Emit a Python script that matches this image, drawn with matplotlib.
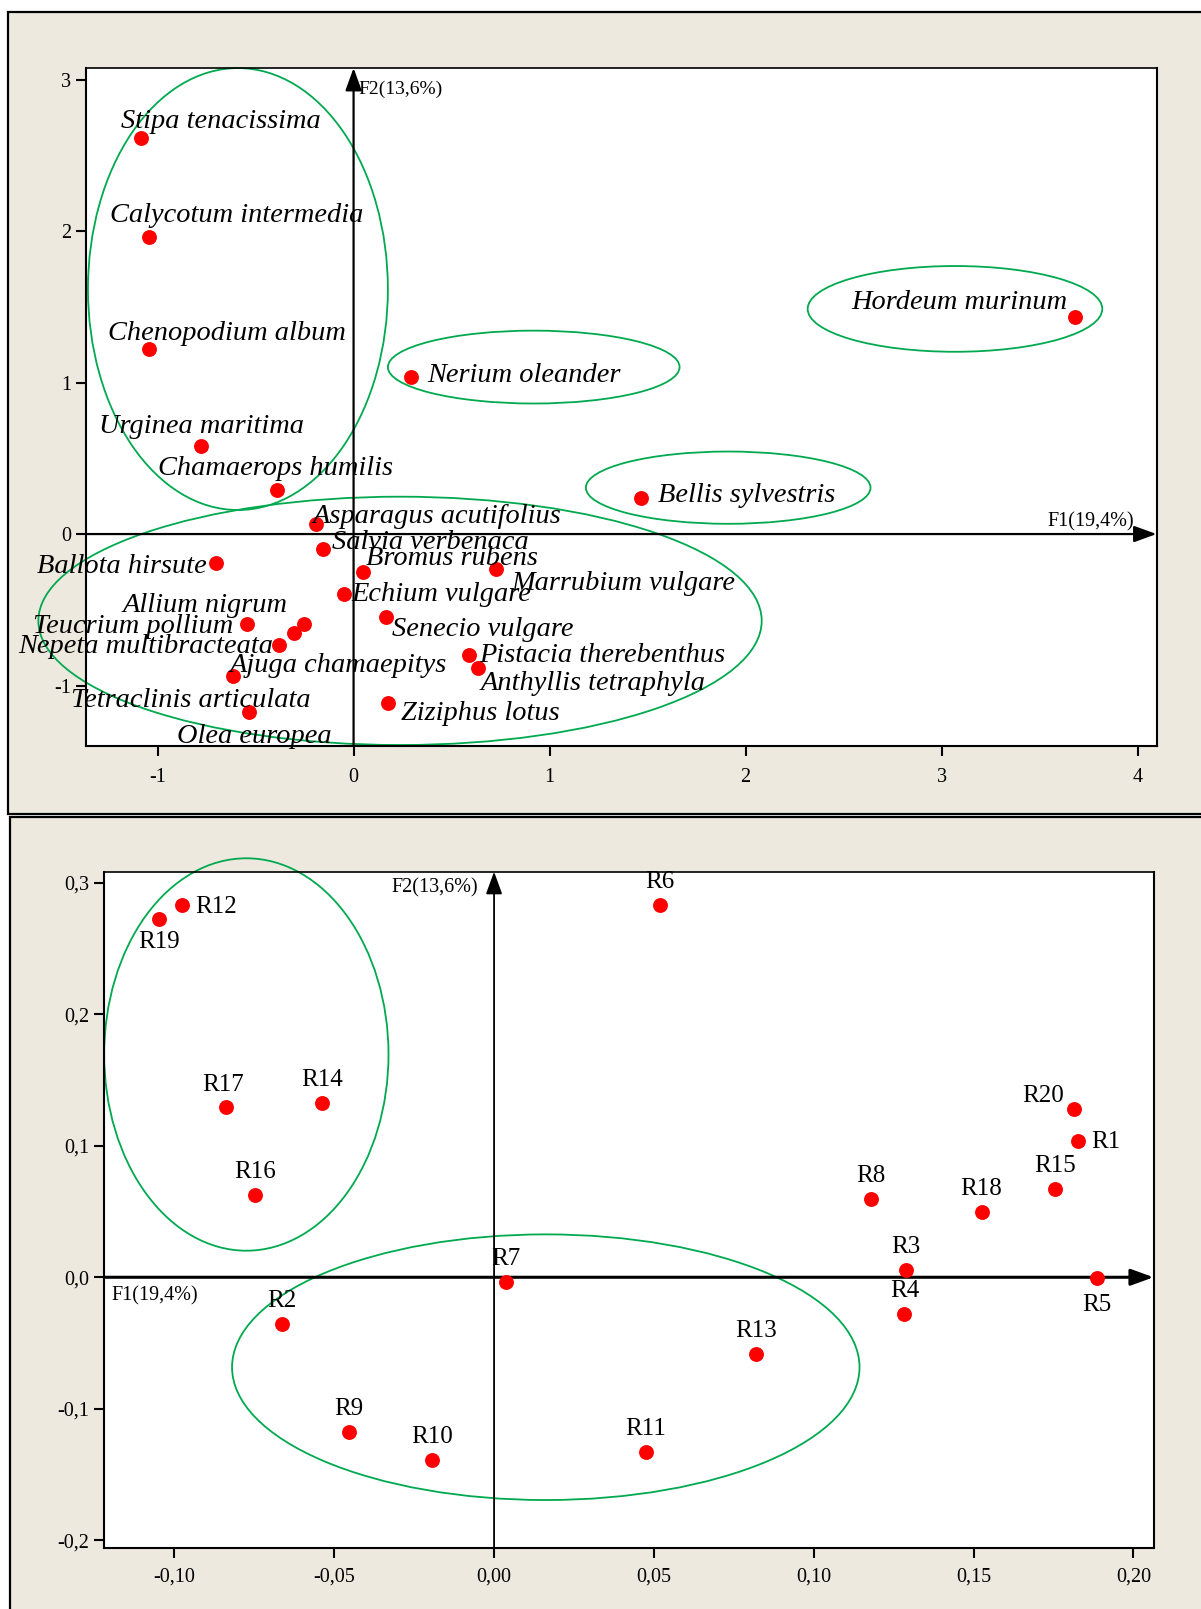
import matplotlib
matplotlib.use("Agg")
import matplotlib.pyplot as plt
from matplotlib.patches import Ellipse, Rectangle

plt.rcParams["font.family"] = ["Liberation Serif", "DejaVu Serif"]

W, H = 1201, 1609
BEIGE = "#ede9df"
GREEN = "#00a94f"
RED = "#ff0000"

# ---------------- #
# SPECIES (F1, F2) #
# ---------------- #
species = [
    "Stipa tenacissima", "Calycotum intermedia", "Chenopodium album",
    "Urginea maritima", "Chamaerops humilis", "Nerium oleander",
    "Hordeum murinum", "Bellis sylvestris", "Asparagus acutifolius",
    "Salvia verbenaca", "Ballota hirsute", "Bromus rubens",
    "Marrubium vulgare", "Echium vulgare", "Senecio vulgare",
    "Teucrium pollium", "Allium nigrum", "Nepeta multibracteata",
    "Ajuga chamaepitys", "Tetraclinis articulata", "Olea europea",
    "Pistacia therebenthus", "Anthyllis tetraphyla", "Ziziphus lotus",
]
sp_f1 = [-1.086, -1.042, -1.042, -0.778, -0.391, 0.291, 3.682, 1.468, -0.190,
         -0.156, -0.700, 0.047, 0.729, -0.047, 0.166, -0.542, -0.253, -0.380,
         -0.305, -0.617, -0.531, 0.591, 0.635, 0.174]
sp_f2 = [2.612, 1.962, 1.219, 0.584, 0.290, 1.038, 1.435, 0.238, 0.066,
         -0.097, -0.194, -0.249, -0.233, -0.398, -0.550, -0.594, -0.594, -0.733,
         -0.651, -0.940, -1.175, -0.799, -0.887, -1.117]

# ---------------- #
# RELEVES (F1, F2) #
# ---------------- #
releves = ["R1", "R2", "R3", "R4", "R5", "R6", "R7", "R8", "R9", "R10",
           "R11", "R12", "R13", "R14", "R15", "R16", "R17", "R18", "R19", "R20"]
rel_f1 = [0.1826, -0.0664, 0.1289, 0.1284, 0.1886, 0.0520, 0.0036, 0.1180, -0.0453, -0.0194,
          0.0475, -0.0976, 0.0820, -0.0538, 0.1754, -0.0747, -0.0839, 0.1525, -0.1049, 0.1813]
rel_f2 = [0.1039, -0.0355, 0.0056, -0.0279, -0.0008, 0.2831, -0.0038, 0.0595, -0.1179, -0.1389,
          -0.1326, 0.2834, -0.0581, 0.1325, 0.0674, 0.0626, 0.1295, 0.0499, 0.2725, 0.1278]

# tick values / labels
top_xticks = [-1, 0, 1, 2, 3, 4]
top_xlabels = ["-1", "0", "1", "2", "3", "4"]
top_yticks = [-1, 0, 1, 2, 3]
top_ylabels = ["-1", "0", "1", "2", "3"]
bot_xticks = [-0.10, -0.05, 0.00, 0.05, 0.10, 0.15, 0.20]
bot_xlabels = ["-0,10", "-0,05", "0,00", "0,05", "0,10", "0,15", "0,20"]
bot_yticks = [-0.2, -0.1, 0.0, 0.1, 0.2, 0.3]
bot_ylabels = ["-0,2", "-0,1", "0,0", "0,1", "0,2", "0,3"]

F1_LABEL = "F1(19,4%)"
F2_LABEL = "F2(13,6%)"

# group outlines (cx, cy, width, height) in data units
sp_groups = [(-0.59, 1.617, 1.53, 2.917), (0.919, 1.102, 1.488, 0.481),
             (3.068, 1.486, 1.503, 0.566), (1.911, 0.306, 1.452, 0.477),
             (0.237, -0.573, 3.69, 1.639)]
rel_groups = [(-0.0775, 0.1694, 0.08895, 0.2984), (0.01618, -0.0684, 0.1963, 0.202)]

# label placement: offset in pixels from the point, horizontal alignment
sp_offsets = {
    "Stipa tenacissima": (-20, 10, "left"), "Calycotum intermedia": (-39, 15, "left"),
    "Chenopodium album": (-41, 9, "left"), "Urginea maritima": (-102, 13, "left"),
    "Chamaerops humilis": (-119, 15, "left"), "Nerium oleander": (17, -5, "left"),
    "Hordeum murinum": (-8, 8, "right"), "Bellis sylvestris": (17, -4, "left"),
    "Asparagus acutifolius": (-4, 1, "left"), "Salvia verbenaca": (9, 0, "left"),
    "Ballota hirsute": (-10, -10, "right"), "Bromus rubens": (3, 7, "left"),
    "Marrubium vulgare": (15, -21, "left"), "Echium vulgare": (7, -7, "left"),
    "Senecio vulgare": (6, -19, "left"), "Teucrium pollium": (-14, -9, "right"),
    "Allium nigrum": (-16, 12, "right"), "Nepeta multibracteata": (-6, -8, "right"),
    "Ajuga chamaepitys": (-64, -39, "left"), "Tetraclinis articulata": (-162, -31, "left"),
    "Olea europea": (-72, -31, "left"), "Pistacia therebenthus": (10, -7, "left"),
    "Anthyllis tetraphyla": (2, -22, "left"), "Ziziphus lotus": (13, -17, "left"),
}
rel_offsets = {
    "R1": (13, -1, "left"), "R5": (0, -27, "center"), "R12": (13, -2, "left"),
    "R19": (0, -23, "center"), "R20": (-10, 13, "right"), "R17": (-3, 22, "center"),
}


def fig_rect(x0, y0, x1, y1):
    # pixel box (top-left origin) -> figure fraction [left, bottom, width, height]
    return [x0 / W, 1 - y1 / H, (x1 - x0) / W, (y1 - y0) / H]


def style_axes(ax, xticks, xlabels, yticks, ylabels, xpad):
    ax.set_facecolor("white")
    for sp in ax.spines.values():
        sp.set_linewidth(1.5)
    ax.spines["top"].set_linewidth(1.2)
    ax.set_xticks(xticks)
    ax.set_xticklabels(xlabels)
    ax.set_yticks(yticks)
    ax.set_yticklabels(ylabels)
    ax.tick_params(direction="out", length=7.5, width=1.5, labelsize=14.5)
    ax.tick_params(axis="x", pad=xpad)
    ax.tick_params(axis="y", pad=3)


def draw_axes_arrows(ax, xlim, ylim, hlw, vlw):
    arrow = dict(arrowstyle="-|>,head_length=0.55,head_width=0.2", color="black",
                 mutation_scale=25, shrinkA=0, shrinkB=0)
    ax.annotate("", xy=(xlim[1], 0), xytext=(xlim[0], 0),
                arrowprops=dict(arrow, lw=hlw), annotation_clip=False)
    ax.annotate("", xy=(0, ylim[1]), xytext=(0, ylim[0]),
                arrowprops=dict(arrow, lw=vlw), annotation_clip=False)


def draw_groups(ax, groups):
    for cx, cy, w, h in groups:
        ax.add_patch(Ellipse((cx, cy), w, h, fill=False, edgecolor=GREEN,
                             lw=1.3, clip_on=False, zorder=2))


fig = plt.figure(figsize=(W / 100, H / 100), dpi=100, facecolor="white")

# beige panel frames, kept behind both axes
for rect in [fig_rect(7.7, 12.3, 1230, 813.5), fig_rect(10, 817, 1230, 1640)]:
    fig.patches.append(Rectangle((rect[0], rect[1]), rect[2], rect[3],
                                 transform=fig.transFigure, facecolor=BEIGE,
                                 edgecolor="black", lw=1.6, zorder=-5))

# --- species plane --- #
ax1 = fig.add_axes(fig_rect(86, 68, 1156.5, 746))
xlim1, ylim1 = (-1.365, 4.096), (-1.399, 3.076)
ax1.set_xlim(xlim1)
ax1.set_ylim(ylim1)
style_axes(ax1, top_xticks, top_xlabels, top_yticks, top_ylabels, xpad=8)
draw_axes_arrows(ax1, xlim1, ylim1, 1.6, 1.6)
draw_groups(ax1, sp_groups)
ax1.scatter(sp_f1, sp_f2, s=115, color=RED, zorder=4, linewidths=0)
for name, x, y in zip(species, sp_f1, sp_f2):
    dx, dy, ha = sp_offsets[name]
    ax1.annotate(name, (x, y), xytext=(dx, dy), textcoords="offset pixels",
                 ha=ha, va="baseline", fontsize=20.4, style="italic",
                 annotation_clip=False, zorder=5)
ax1.annotate(F2_LABEL, (0, ylim1[1]), xytext=(5, -21), textcoords="offset pixels",
             ha="left", va="center", fontsize=14, annotation_clip=False)
ax1.annotate(F1_LABEL, (xlim1[1], 0), xytext=(-22, 12), textcoords="offset pixels",
             ha="right", va="center", fontsize=14.5, annotation_clip=False)

# --- releves plane --- #
ax2 = fig.add_axes(fig_rect(104.1, 871.7, 1153.5, 1548.3))
xlim2, ylim2 = (-0.122, 0.2063), (-0.2061, 0.3084)
ax2.set_xlim(xlim2)
ax2.set_ylim(ylim2)
style_axes(ax2, bot_xticks, bot_xlabels, bot_yticks, bot_ylabels, xpad=6)
draw_axes_arrows(ax2, xlim2, ylim2, 2.2, 1.3)
draw_groups(ax2, rel_groups)
ax2.scatter(rel_f1, rel_f2, s=115, color=RED, zorder=4, linewidths=0)
for name, x, y in zip(releves, rel_f1, rel_f2):
    dx, dy, ha = rel_offsets.get(name, (0, 23, "center"))
    ax2.annotate(name, (x, y), xytext=(dx, dy), textcoords="offset pixels",
                 ha=ha, va="center", fontsize=18, annotation_clip=False, zorder=5)
ax2.annotate(F2_LABEL, (0, ylim2[1]), xytext=(-16, -16), textcoords="offset pixels",
             ha="right", va="center", fontsize=14.5, annotation_clip=False)
ax2.annotate(F1_LABEL, (xlim2[0], 0), xytext=(7, -19), textcoords="offset pixels",
             ha="left", va="center", fontsize=14.5, annotation_clip=False)

fig.savefig("out.png", dpi=100, facecolor=fig.get_facecolor())
